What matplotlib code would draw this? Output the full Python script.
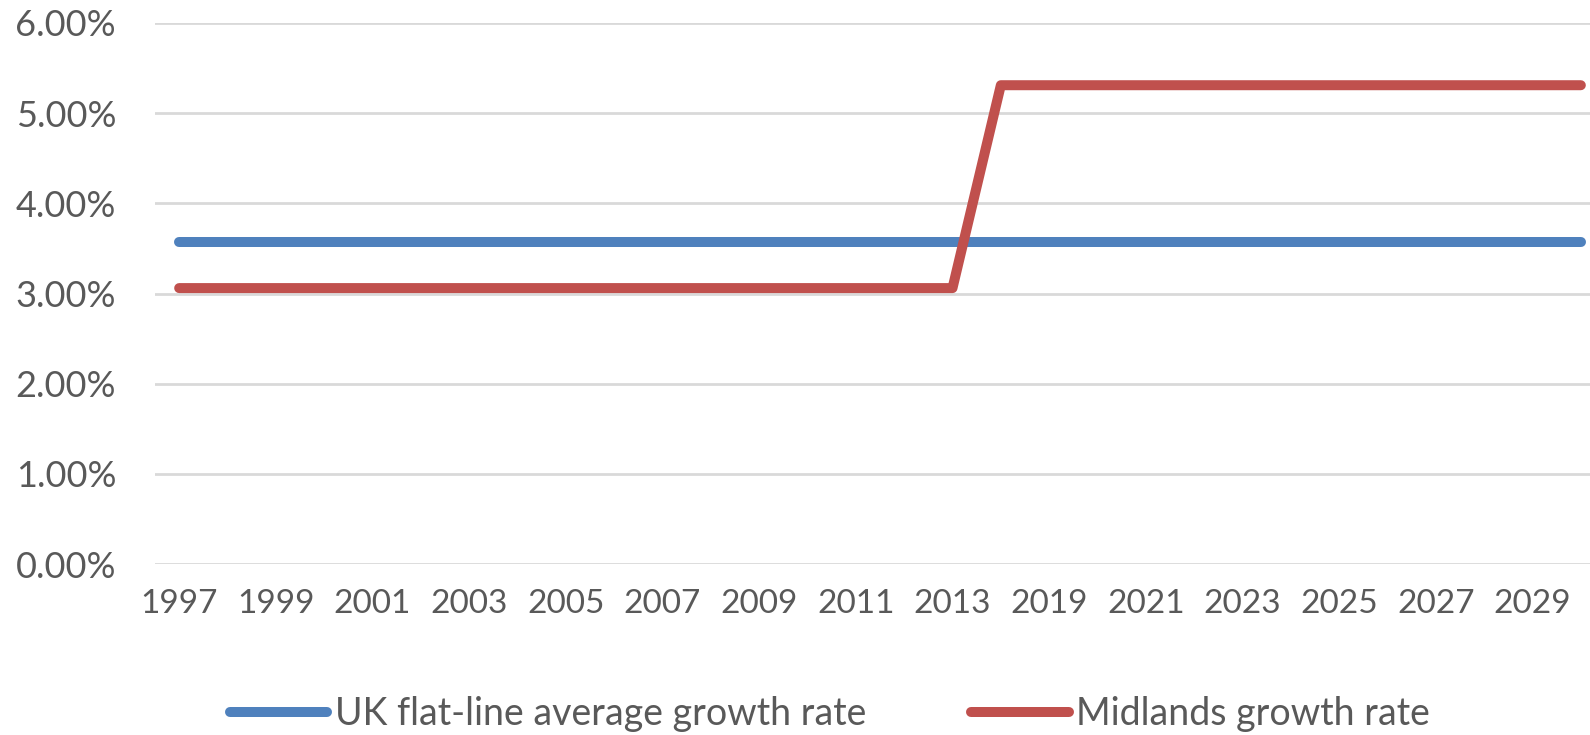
import matplotlib
matplotlib.use("Agg")
import matplotlib.pyplot as plt
from matplotlib.ticker import PercentFormatter

# categories (one unlabelled year sits between 2013 and 2019)
years = list(range(1997, 2014)) + [2018] + list(range(2019, 2031))
uk_avg = [0.0357] * len(years)
midlands = [0.0306] * 17 + [0.0531] * 13

plt.rcParams["font.family"] = ["Lato", "DejaVu Sans"]
text_col = "#595959"

fig = plt.figure(figsize=(15.9, 7.35), dpi=100)
ax = fig.add_axes([155 / 1590, 171 / 735, 1450 / 1590, 541 / 735])

x = list(range(len(years)))
ax.plot(x, uk_avg, color="#4F81BD", lw=7.2, solid_capstyle="round",
        solid_joinstyle="round", label="UK flat-line average growth rate")
ax.plot(x, midlands, color="#C0504D", lw=7.2, solid_capstyle="round",
        solid_joinstyle="round", label="Midlands growth rate")

ax.set_xlim(-0.5, len(years) - 0.5)
ax.set_ylim(0, 0.06)
ax.set_yticks([i / 100 for i in range(7)])
ax.yaxis.set_major_formatter(PercentFormatter(1.0, decimals=2))
ax.set_xticks(x[::2])
ax.set_xticklabels([str(y) for y in years[::2]])

ax.grid(axis="y", color="#D9D9D9", lw=2)
ax.set_axisbelow(True)
for s in ax.spines.values():
    s.set_visible(False)
ax.tick_params(length=0, colors=text_col)
ax.tick_params(axis="y", pad=28, labelsize=26)
ax.tick_params(axis="x", pad=18, labelsize=24)

leg = fig.legend(loc="center", bbox_to_anchor=(0.522, 0.028), ncol=2,
                 frameon=False, fontsize=27, handlelength=2.6,
                 columnspacing=2.8, handletextpad=0.2)
for t in leg.get_texts():
    t.set_color(text_col)

fig.savefig("out.png", dpi=100)
